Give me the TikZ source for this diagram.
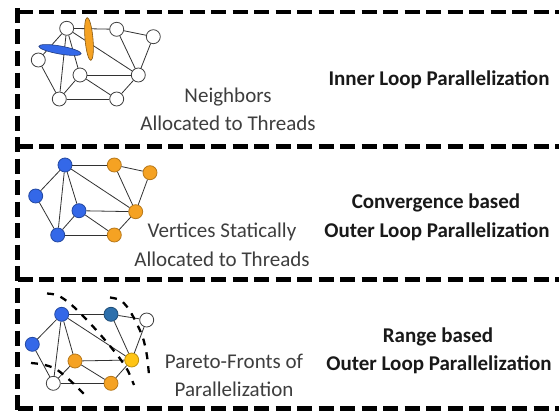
\documentclass[tikz,border=0pt]{standalone}
\usepackage{fontspec}
\setmainfont{Carlito}
\usetikzlibrary{shapes.geometric}
\definecolor{nblue}{RGB}{52,104,232}
\definecolor{norange}{RGB}{245,162,35}
\definecolor{ndblue}{RGB}{46,112,172}
\definecolor{nyellow}{RGB}{255,196,20}
\definecolor{txtgray}{RGB}{62,62,62}
\definecolor{edgegray}{RGB}{50,50,50}
\tikzset{
  frame/.style={line width=4.5pt, dash pattern=on 15pt off 6.5pt, black},
  gnode/.style={circle, minimum size=14pt, inner sep=0pt, draw=black!75, line width=0.8pt, fill=white},
  bnode/.style={gnode, fill=nblue, draw=nblue!70!black},
  onode/.style={gnode, fill=norange, draw=norange!75!black},
  dnode/.style={gnode, fill=ndblue, draw=ndblue!70!black},
  ynode/.style={gnode, fill=nyellow, draw=nyellow!75!black},
  gedge/.style={line width=0.8pt, edgegray},
  front/.style={line width=2.3pt, dash pattern=on 7pt off 7pt, black, line cap=butt},
  lbl/.style={font=\fontsize{21}{25}\selectfont, text=txtgray, anchor=base, inner sep=0pt},
  blbl/.style={font=\fontsize{21}{25}\selectfont\bfseries, text=black!90, anchor=base, inner sep=0pt},
}
\begin{document}
\begin{tikzpicture}[x=1pt, y=-1pt]
\useasboundingbox (0,0) rectangle (559,412);
\fill[white] (0,0) rectangle (559,412);

% frame
\draw[frame] (17.5,8) -- (17.5,412);
\draw[frame] (17.5,12) -- (562,12);
\draw[frame] (17.5,146.5) -- (562,146.5);
\draw[frame] (17.5,279.5) -- (562,279.5);
\draw[frame] (17.5,408.5) -- (562,408.5);

% ---------- graph 1 ----------
\node[gnode] (a1) at (66.7,28.3) {};
\node[gnode] (b1) at (116.7,29.3) {};
\node[gnode] (c1) at (153.3,36.7) {};
\node[gnode] (d1) at (38.3,60) {};
\node[gnode] (e1) at (80,75) {};
\node[gnode] (f1) at (138.3,75) {};
\node[gnode] (g1) at (59.3,99) {};
\node[gnode] (h1) at (116.7,99) {};
\foreach \u/\v in {a1/b1,b1/c1,b1/f1,c1/f1,a1/d1,a1/g1,a1/e1,a1/f1,d1/g1,e1/g1,e1/f1,e1/h1,g1/h1,h1/f1}
  \draw[gedge] (\u) -- (\v);
\node[ellipse, minimum width=43pt, minimum height=8pt, inner sep=0pt, rotate=-10,
      fill=nblue, draw=nblue!55!black, line width=0.6pt] (ell1) at (60,50) {};
\node[ellipse, minimum width=8pt, minimum height=43pt, inner sep=0pt, rotate=5,
      fill=norange, draw=norange!55!black, line width=0.6pt] (ell2) at (89,39) {};

% ---------- graph 2 ----------
\node[bnode] (a2) at (65,165) {};
\node[onode] (b2) at (114.3,165) {};
\node[onode] (c2) at (150,172.7) {};
\node[bnode] (d2) at (35.7,196) {};
\node[bnode] (e2) at (79,210.7) {};
\node[onode] (f2) at (135.7,211.7) {};
\node[bnode] (g2) at (57.7,235) {};
\node[onode] (h2) at (114.3,235) {};
\foreach \u/\v in {a2/b2,b2/c2,b2/f2,c2/f2,a2/d2,a2/g2,a2/e2,a2/f2,d2/g2,e2/g2,e2/f2,e2/h2,g2/h2,h2/f2}
  \draw[gedge] (\u) -- (\v);

% ---------- graph 3 ----------
\node[bnode] (a3) at (61.7,314.3) {};
\node[dnode] (b3) at (111,314.3) {};
\node[gnode] (c3) at (146.7,320) {};
\node[bnode] (d3) at (32.3,344.3) {};
\node[onode] (e3) at (75,361) {};
\node[ynode] (f3) at (131.7,360) {};
\node[gnode] (g3) at (53.3,383.3) {};
\node[onode] (h3) at (111,383.3) {};
\foreach \u/\v in {a3/b3,b3/c3,b3/f3,c3/f3,a3/d3,a3/g3,a3/e3,a3/f3,d3/g3,e3/g3,e3/f3,e3/h3,g3/h3,h3/f3}
  \draw[gedge] (\u) -- (\v);
\draw[front] plot[smooth] coordinates {(47,293.5) (57,295) (66,300.5) (75,308) (85,318) (98,332) (110,346) (121,360) (128,371) (134,385)};
\draw[front] plot[smooth] coordinates {(110,297.5) (120,300) (128,308) (136,322) (143,338) (147,356) (149,375)};
\draw[front] plot[smooth] coordinates {(31,363) (43,364.5) (55,368.5) (65,376) (75,385) (85,395)};

% ---------- labels ----------
\node[blbl] (t1) at (439,85) {Inner Loop Parallelization};
\node[lbl] (n1a) at (228,102) {Neighbors};
\node[lbl] (n1b) at (228,130) {Allocated to Threads};

\node[blbl] (t2a) at (436,208) {Convergence based};
\node[blbl] (t2b) at (437,237) {Outer Loop Parallelization};
\node[lbl] (n2a) at (222,237) {Vertices Statically};
\node[lbl] (n2b) at (222,266) {Allocated to Threads};

\node[blbl] (t3a) at (438,342) {Range based};
\node[blbl] (t3b) at (439,370) {Outer Loop Parallelization};
\node[lbl] (n3a) at (234,368.5) {Pareto-Fronts of};
\node[lbl] (n3b) at (234,396.5) {Parallelization};
\end{tikzpicture}
\end{document}
